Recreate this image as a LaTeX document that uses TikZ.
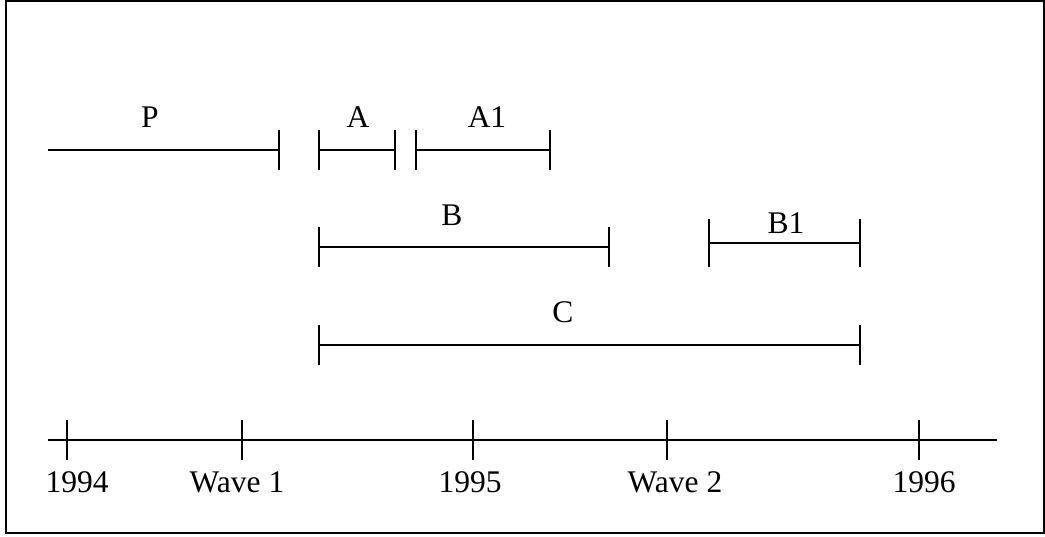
\documentclass[tikz,border=0pt]{standalone}
\usepackage{fontspec}
\setmainfont{Liberation Serif}
\usetikzlibrary{arrows.meta}
\begin{document}
\begin{tikzpicture}[x=1pt,y=-1pt,
  seg/.style={line width=2.2pt,{Bar[width=40pt,line width=2.2pt]}-{Bar[width=40pt,line width=2.2pt]}},
  segr/.style={line width=2.2pt,-{Bar[width=40pt,line width=2.2pt]}},
  axis/.style={line width=2.2pt},
  tick/.style={line width=2.2pt},
  lbl/.style={anchor=base,inner sep=0pt,font=\fontsize{31.5}{37}\selectfont}]
\useasboundingbox (0,0) rectangle (1045,537);
\draw[line width=2.2pt] (6,1) rectangle (1044,533);
% segment end points
\coordinate (p0) at (48,150);  \coordinate (p1) at (280,150);
\coordinate (a0) at (318,150); \coordinate (a1) at (396,150);
\coordinate (c0) at (415,150); \coordinate (c1) at (551,150);
\coordinate (b0) at (318,247); \coordinate (b1) at (610,247);
\coordinate (d0) at (708,243); \coordinate (d1) at (861,243);
\coordinate (e0) at (318,345); \coordinate (e1) at (861,345);
\draw[segr] (p0) -- (p1);
\draw[seg] (a0) -- (a1);
\draw[seg] (c0) -- (c1);
\draw[seg] (b0) -- (b1);
\draw[line width=2.2pt,{Bar[width=48pt,line width=2.2pt]}-{Bar[width=48pt,line width=2.2pt]}] (d0) -- (d1);
\draw[seg] (e0) -- (e1);
% labels
\node[lbl] (lP) at (150,128) {P};
\node[lbl] (lA) at (358,128) {A};
\node[lbl] (lA1) at (487,128) {A1};
\node[lbl] (lB) at (452,226) {B};
\node[lbl] (lB1) at (786,234) {B1};
\node[lbl] (lC) at (563,323) {C};
% axis
\coordinate (ax0) at (48,440); \coordinate (ax1) at (997,440);
\draw[axis] (ax0) -- (ax1);
\foreach \x/\n in {67/t1,242/t2,473/t3,667/t4,919/t5}{
  \coordinate (\n a) at (\x,420); \coordinate (\n b) at (\x,460);
  \draw[tick] (\n a) -- (\n b);
}
\node[lbl] (y94) at (77,492) {1994};
\node[lbl] (w1) at (237,492) {Wave 1};
\node[lbl] (y95) at (470,492) {1995};
\node[lbl] (w2) at (675,492) {Wave 2};
\node[lbl] (y96) at (924,492) {1996};
\end{tikzpicture}
\end{document}
